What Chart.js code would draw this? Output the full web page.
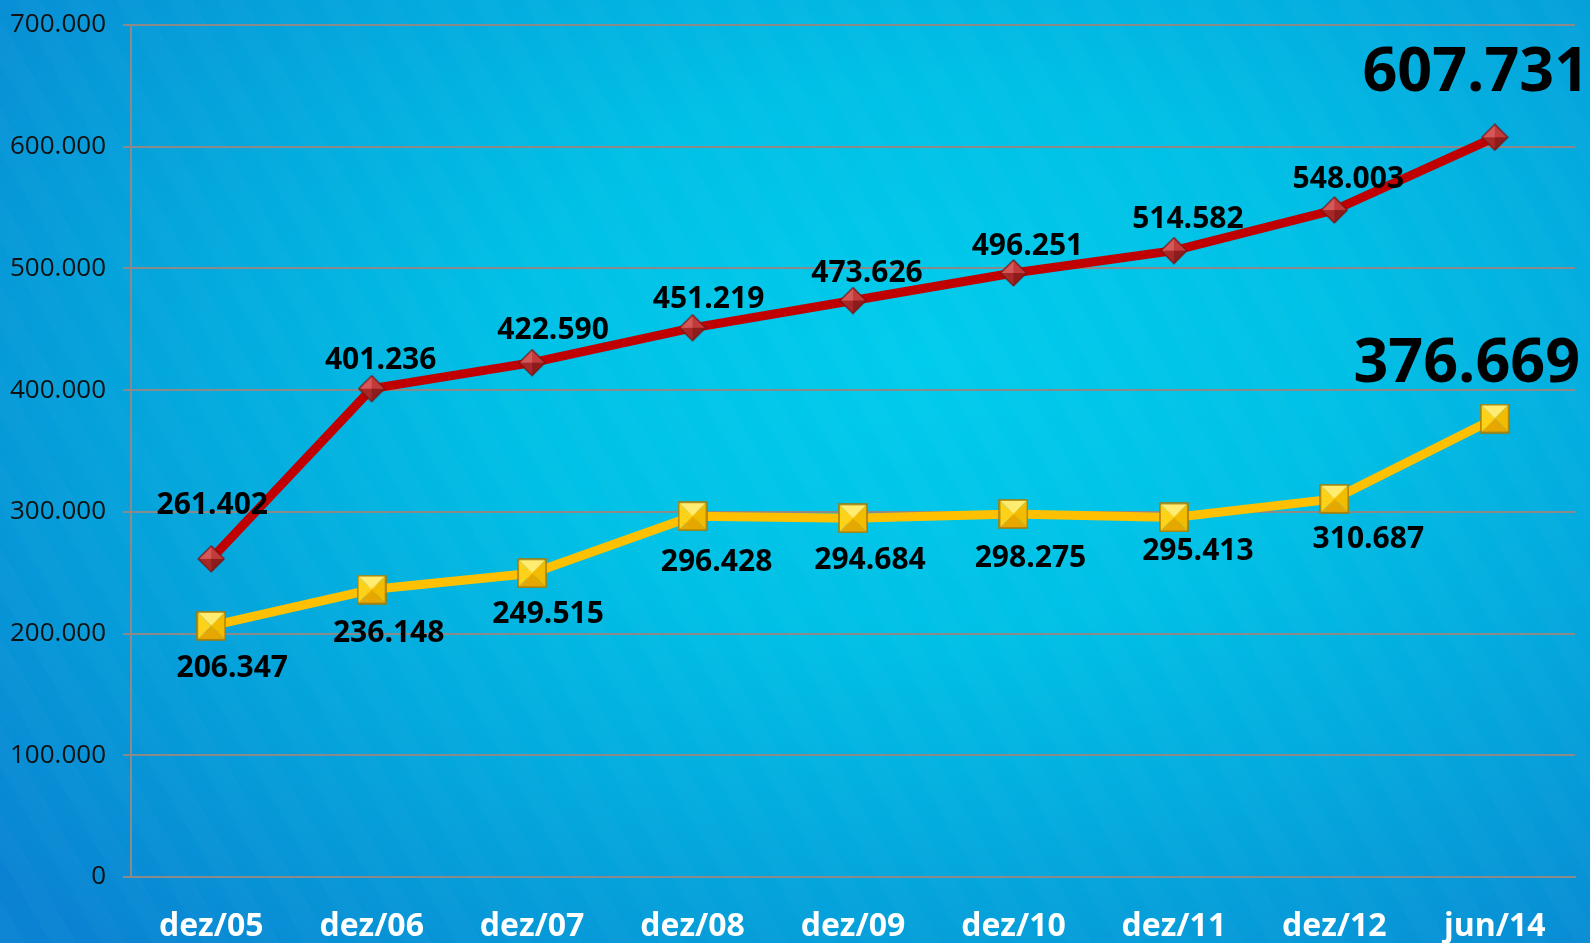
<!DOCTYPE html>
<html>
<head>
<meta charset="utf-8">
<script src="https://cdn.jsdelivr.net/npm/chart.js@4"></script>
<style>
  html, body { margin: 0; padding: 0; overflow: hidden; }
  body {
    width: 1590px; height: 943px;
    background:
      repeating-linear-gradient(60deg, rgba(255,255,255,0.015) 0 22px, rgba(255,255,255,0) 22px 44px),
      radial-gradient(ellipse 75% 85% at 58% 38%, #00ccec 0%, #00c0e6 35%, #04a6dc 65%, #0a84d2 100%);
  }
  #wrap { position: relative; width: 1590px; height: 943px; }
</style>
</head>
<body>
<div id="wrap"><canvas id="chart"></canvas></div>
<script>
const categories = ['dez/05', 'dez/06', 'dez/07', 'dez/08', 'dez/09', 'dez/10', 'dez/11', 'dez/12', 'jun/14'];
const redValues = [261402, 401236, 422590, 451219, 473626, 496251, 514582, 548003, 607731];
const yellowValues = [206347, 236148, 249515, 296428, 294684, 298275, 295413, 310687, 376669];
const yTickValues = [0, 100000, 200000, 300000, 400000, 500000, 600000, 700000];

// label placement (pixels relative to the point), kept apart from the data
const redLabelOffsets = [[1, -53], [9, -28], [21, -32], [16, -28], [14, -27], [14, -27], [14, -31], [14, -31], [-19, -64]];
const yellowLabelOffsets = [[21, 43], [17, 44], [16, 41], [24, 46], [17, 42], [17, 44], [24, 34], [34, 41], [-28, -54]];

function fmt(n) {
    return String(n).replace(/\B(?=(\d{3})+(?!\d))/g, '.');
}

function makeDiamond() {
    const s = 28, c = document.createElement('canvas');
    c.width = s; c.height = s;
    const g = c.getContext('2d');
    const m = s / 2, r = s / 2 - 1;
    const faces = [
        [[m, m - r], [m - r, m], '#d55858'],
        [[m, m - r], [m + r, m], '#c23a3a'],
        [[m + r, m], [m, m + r], '#8e1c1c'],
        [[m, m + r], [m - r, m], '#a82828']
    ];
    faces.forEach(f => {
        g.beginPath();
        g.moveTo(m, m); g.lineTo(f[0][0], f[0][1]); g.lineTo(f[1][0], f[1][1]);
        g.closePath();
        g.fillStyle = f[2]; g.fill();
    });
    g.beginPath();
    g.moveTo(m, m - r); g.lineTo(m + r, m); g.lineTo(m, m + r); g.lineTo(m - r, m); g.closePath();
    g.strokeStyle = '#7a1212'; g.lineWidth = 1.2; g.stroke();
    return c;
}

function makeSquare() {
    const s = 30, c = document.createElement('canvas');
    c.width = s; c.height = s;
    const g = c.getContext('2d');
    const a = 1, b = s - 1, m = s / 2;
    const faces = [
        [[a, a], [b, a], '#ffec70'],
        [[b, a], [b, b], '#f2bc00'],
        [[b, b], [a, b], '#e6a800'],
        [[a, b], [a, a], '#ffd21a']
    ];
    faces.forEach(f => {
        g.beginPath();
        g.moveTo(m, m); g.lineTo(f[0][0], f[0][1]); g.lineTo(f[1][0], f[1][1]);
        g.closePath();
        g.fillStyle = f[2]; g.fill();
    });
    g.strokeStyle = '#a87a00'; g.lineWidth = 1.5;
    g.strokeRect(a, a, b - a, b - a);
    return c;
}

const valueLabels = {
    id: 'valueLabels',
    afterDatasetsDraw(chart) {
        const ctx = chart.ctx;
        ctx.save();
        ctx.fillStyle = '#000';
        ctx.textAlign = 'center';
        ctx.textBaseline = 'middle';
        chart.data.datasets.forEach((ds, i) => {
            const meta = chart.getDatasetMeta(i);
            const offs = ds.labelOffsets;
            meta.data.forEach((pt, j) => {
                const last = j === ds.data.length - 1;
                ctx.font = last ? 'bold 61px "Open Sans"' : 'bold 30px "Open Sans"';
                ctx.fillText(fmt(ds.data[j]), pt.x + offs[j][0], pt.y + offs[j][1]);
            });
        });
        ctx.restore();
    }
};

new Chart(document.getElementById('chart'), {
    type: 'line',
    data: {
        labels: categories,
        datasets: [
            {
                label: 'Total',
                data: redValues,
                borderColor: '#c00000',
                borderWidth: 9,
                pointStyle: makeDiamond(),
                labelOffsets: redLabelOffsets,
                tension: 0
            },
            {
                label: 'Parcial',
                data: yellowValues,
                borderColor: '#ffc000',
                borderWidth: 9,
                pointStyle: makeSquare(),
                labelOffsets: yellowLabelOffsets,
                tension: 0
            }
        ]
    },
    options: {
        responsive: true,
        maintainAspectRatio: false,
        animation: false,
        events: [],
        layout: { padding: { top: 25, right: 15, left: 0, bottom: 0 } },
        plugins: {
            legend: { display: false },
            tooltip: { enabled: false }
        },
        scales: {
            x: {
                offset: true,
                grid: { display: false, drawTicks: false },
                border: { display: true, color: '#8a8a8a', width: 2 },
                ticks: {
                    color: '#ffffff',
                    font: { family: 'Open Sans', size: 32, weight: 'bold' },
                    padding: 31,
                    maxRotation: 0
                },
                afterFit: s => { s.height = 66; s.paddingLeft = 0; s.paddingRight = 0; }
            },
            y: {
                min: 0,
                max: 700000,
                afterBuildTicks: s => { s.ticks = yTickValues.map(v => ({ value: v })); },
                grid: { color: '#8a8a8a', lineWidth: 2, tickLength: 8 },
                border: { display: true, color: '#8a8a8a', width: 2 },
                ticks: {
                    color: '#111',
                    font: { family: 'Open Sans', size: 26 },
                    padding: 17,
                    callback: v => fmt(v)
                },
                afterFit: s => { s.width = 131; s.paddingTop = 0; s.paddingBottom = 0; }
            }
        }
    },
    plugins: [valueLabels]
});
</script>
</body>
</html>
